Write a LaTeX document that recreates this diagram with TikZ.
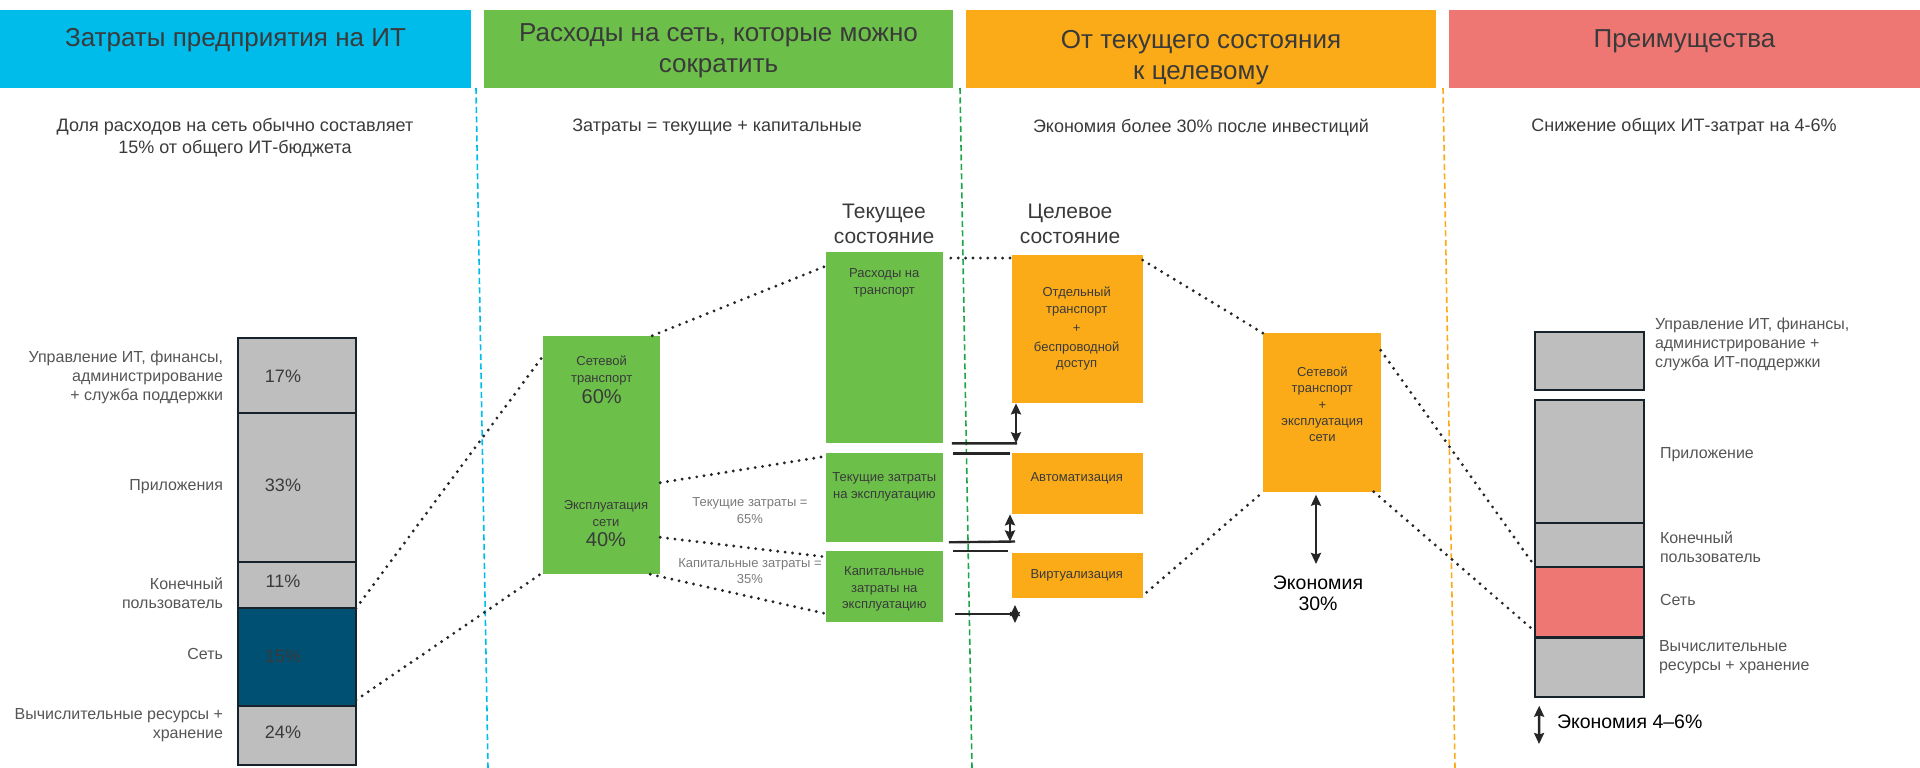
\documentclass[tikz,border=0pt]{standalone}
\usepackage{fontspec}
\setmainfont{Liberation Sans}
\usetikzlibrary{arrows.meta}

\definecolor{hdrblue}{HTML}{00BCEB}
\definecolor{hdrgreen}{HTML}{6CC04A}
\definecolor{hdrorange}{HTML}{FBAB18}
\definecolor{hdrred}{HTML}{EF7773}
\definecolor{netblue}{HTML}{005073}
\definecolor{bargray}{HTML}{BEBEBE}
\definecolor{barline}{HTML}{17232B}
\definecolor{sepgreen}{HTML}{1DA54A}
\definecolor{txtdark}{HTML}{3A3A3A}
\definecolor{txtgray}{HTML}{555555}
\definecolor{txtlight}{HTML}{7A7A7A}

\newcommand{\fsz}[2]{\fontsize{#1}{#2}\selectfont}

\begin{document}
\begin{tikzpicture}[x=1pt, y=-1pt,
    every node/.style={inner sep=0pt, outer sep=0pt},
    header/.style={fill=#1, minimum width=471, minimum height=78},
    htext/.style={text=txtdark, font=\fsz{26}{31}, align=center},
    subhead/.style={text=txtdark, font=\fsz{18}{21.5}, align=center},
    bar/.style={draw=barline, line width=2pt, fill=#1, minimum width=118},
    rbar/.style={draw=barline, line width=2pt, fill=#1, minimum width=109},
    barlabel/.style={text=txtgray, font=\fsz{16}{19}},
    pct/.style={text=txtdark, font=\fsz{18}{22}},
    gbox/.style={fill=hdrgreen, minimum width=117},
    obox/.style={fill=hdrorange, minimum width=130.7},
    boxtext/.style={text=txtdark, font=\fsz{13}{16.3}, align=center},
    midtext/.style={text=txtlight, font=\fsz{13}{16.5}, align=center},
    state/.style={text=txtdark, font=\fsz{21}{24.5}, align=center},
    savetext/.style={text=black, font=\fsz{19.5}{21.5}, align=center},
    dotline/.style={line width=3.2pt, dash pattern=on 0pt off 7.4pt, line cap=round, draw=black!85},
    sepline/.style={line width=1.6pt, dash pattern=on 6pt off 3.5pt, draw=#1},
    cutline/.style={line width=2.4pt, draw=black!85},
    saving/.style={line width=2.4pt, draw=black!85,
        {Stealth[length=11pt,width=10pt,inset=1.5pt]}-{Stealth[length=11pt,width=10pt,inset=1.5pt]}}]

    \useasboundingbox (0,0) rectangle (1920,768);

    % headers
    \node[header=hdrblue] (h1) at (235.5,49) {};
    \node[header=hdrgreen, minimum width=469] (h2) at (718.5,49) {};
    \node[header=hdrorange, minimum width=470] (h3) at (1201,49) {};
    \node[header=hdrred] (h4) at (1684.5,49) {};
    \node[htext] (t1) at (235.5,40.3) {Затраты предприятия на ИТ};
    \node[htext] (t2) at (718.5,50.8) {Расходы на сеть, которые можно\\сократить};
    \node[htext] (t3) at (1201,57.4) {От текущего состояния\\к целевому};
    \node[htext] (t4) at (1684.5,41.3) {Преимущества};

    \node[subhead] (s1) at (235,137.9) {Доля расходов на сеть обычно составляет\\15\% от общего ИТ-бюджета};
    \node[subhead] (s2) at (717,127.2) {Затраты = текущие + капитальные};
    \node[subhead] (s3) at (1201,127.2) {Экономия более 30\% после инвестиций};
    \node[subhead] (s4) at (1684,127.2) {Снижение общих ИТ-затрат на 4-6\%};

    % column separators
    \draw[sepline=hdrblue] (476,88) -- (488,768);
    \draw[sepline=sepgreen] (960,88) -- (972,768);
    \draw[sepline=hdrorange] (1443,88) -- (1455,768);

    % IT budget bar
    \foreach \n/\yc/\h/\c/\p/\py in {1/375.8/75/bargray/17/376.7, 2/487.8/149/bargray/33/485.7,
        3/585.3/46/bargray/11/581.7, 4/657.2/97.7/netblue/15/656.7, 5/735.5/59/bargray/24/732.7} {
        \node[bar=\c, minimum height=\h] (L\n) at (297,\yc) {};
        \node[pct] (P\n) at (283,\py) {\p\%};
    }
    \node[barlabel, anchor=east, align=right] (l1) at (223,377) {Управление ИТ, финансы,\\администрирование\\+ служба поддержки};
    \node[barlabel, anchor=east] (l2) at (223,487) {Приложения};
    \node[barlabel, anchor=east, align=right] (l3) at (223,593) {Конечный\\пользователь};
    \node[barlabel, anchor=east] (l4) at (223,654) {Сеть};
    \node[barlabel, anchor=east, align=right] (l5) at (223,725) {Вычислительные ресурсы +\\хранение};

    % network spend split
    \node[gbox, minimum height=238.6] (nt) at (601.7,455) {};
    \node[boxtext] (nt1) at (601.7,370.5) {Сетевой\\транспорт};
    \node[pct, font=\fsz{20}{22}] (nt2) at (601.7,397) {60\%};
    \node[boxtext] (nt3) at (606,513.5) {Эксплуатация\\сети};
    \node[pct, font=\fsz{20}{22}] (nt4) at (606,540) {40\%};

    \node[midtext] (m1) at (750,510.5) {Текущие затраты =\\65\%};
    \node[midtext] (m2) at (750,571) {Капитальные затраты =\\35\%};

    % current state
    \node[state] (cs) at (884,224) {Текущее\\состояние};
    \node[gbox, minimum height=191.3] (tr) at (884.3,347.7) {};
    \node[boxtext] (trt) at (884.3,283) {Расходы на\\транспорт};
    \node[gbox, minimum height=89] (cur) at (884.3,497.8) {};
    \node[boxtext] (curt) at (884.3,487) {Текущие затраты\\на эксплуатацию};
    \node[gbox, minimum height=70.7] (cap) at (884.3,586.3) {};
    \node[boxtext] (capt) at (884.3,589) {Капитальные\\затраты на\\эксплуатацию};

    % target state
    \node[state] (ts) at (1070,224) {Целевое\\состояние};
    \node[obox, minimum height=148.3] (sep) at (1077.3,329.2) {};
    \node[boxtext] (sept) at (1076.7,328.9) {Отдельный\\транспорт\\[3pt]+\\[3pt]беспроводной\\доступ};
    \node[obox, minimum height=61] (aut) at (1077.3,483.8) {};
    \node[boxtext] (autt) at (1076.7,478.3) {Автоматизация};
    \node[obox, minimum height=45] (virt) at (1077.3,575.8) {};
    \node[boxtext] (virtt) at (1076.7,575.7) {Виртуализация};

    \node[obox, minimum width=117.4, minimum height=158.4] (big) at (1322,412.5) {};
    \node[boxtext] (bigt) at (1322.3,404.5) {Сетевой\\транспорт\\+\\эксплуатация\\сети};
    \node[savetext] (sv30) at (1318,593.5) {Экономия\\30\%};

    % benefits bar
    \foreach \n/\yc/\h/\c in {1/360.8/58.3/bargray, 2/461.7/123.3/bargray, 3/545/43.4/bargray,
        4/601.7/70/hdrred, 5/667.5/58.4/bargray} {
        \node[rbar=\c, minimum height=\h] (R\n) at (1589.7,\yc) {};
    }
    \node[barlabel, anchor=west, align=left] (r1) at (1655,344) {Управление ИТ, финансы,\\администрирование +\\служба ИТ-поддержки};
    \node[barlabel, anchor=west] (r2) at (1660,455) {Приложение};
    \node[barlabel, anchor=west, align=left] (r3) at (1660,547) {Конечный\\пользователь};
    \node[barlabel, anchor=west] (r4) at (1660,600) {Сеть};
    \node[barlabel, anchor=west, align=left] (r5) at (1659,656.7) {Вычислительные\\ресурсы + хранение};
    \node[savetext, anchor=west] (sv46) at (1557,721.7) {Экономия 4–6\%};

    % dotted connectors
    \draw[dotline] (L4.north east) -- ([yshift=-20pt]nt.north west);
    \draw[dotline] ([yshift=6pt]L4.south east) -- ([yshift=2pt]nt.south west);
    \draw[dotline] ([xshift=-8pt]nt.north east) -- ([yshift=-14pt]tr.north west);
    \draw[dotline] ([yshift=-147pt]nt.north east) -- ([yshift=-3pt]cur.north west);
    \draw[dotline] ([yshift=37pt]nt.south east) -- ([yshift=-6pt]cap.north west);
    \draw[dotline] ([xshift=-10pt]nt.south east) -- ([yshift=8pt]cap.south west);
    \draw[dotline] ([xshift=8pt,yshift=-6pt]tr.north east) -- ([yshift=-3pt]sep.north west);
    \draw[dotline] ([yshift=-5pt]sep.north east) -- (big.north west);
    \draw[dotline] ([xshift=4pt,yshift=6pt]virt.south east) -- (big.south west);
    \draw[dotline] ([yshift=-17pt]big.north east) -- (R4.north west);
    \draw[dotline] ([xshift=-7pt]big.south east) -- ([yshift=5pt]R4.south west);

    % savings markers
    \coordinate (a1) at (1016,443.3);
    \coordinate (a2) at (1010,541.5);
    \coordinate (a3) at (1015,614);
    \coordinate (a4) at (1316,564);
    \coordinate (a5) at (1539,744);
    \draw[cutline] ([xshift=9pt]tr.south east) -- ([xshift=1pt]a1);
    \draw[saving] (sep.south -| a1) -- (a1);
    \draw[cutline] ([xshift=10pt]cur.north east) -- ([xshift=-2pt]aut.north west);
    \draw[cutline] ([xshift=6pt]cur.south east) -- ([xshift=5pt]a2);
    \draw[saving] (aut.south -| a2) -- (a2);
    \draw[cutline] ([xshift=10pt]cap.north east) -- ([xshift=-4pt]virt.west |- cap.north);
    \draw[cutline] ([xshift=12pt]cap.east |- a3) -- (a3);
    \draw[saving] ([yshift=9pt]a3) -- ([yshift=-9pt]a3);
    \draw[saving] ([xshift=-6pt,yshift=-3pt]big.south) -- (a4);
    \draw[saving] ([xshift=4pt,yshift=-9pt]R5.south west) -- (a5);
\end{tikzpicture}
\end{document}
